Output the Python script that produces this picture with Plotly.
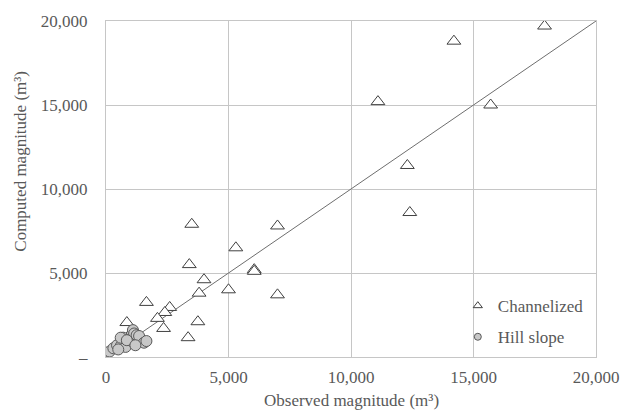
import plotly.graph_objects as go

# Channelized events (observed, computed) in m3
chan_obs = [17900, 14200, 11100, 15700, 12300, 12400, 3500, 7000, 5300, 3400,
            6050, 6050, 4000, 5000, 7000, 3800, 1650, 2600, 2400, 2100, 3750,
            2350, 3350, 850, 1000]
chan_comp = [19700, 18800, 15200, 15000, 11400, 8600, 7900, 7800, 6500, 5500,
             5200, 5100, 4600, 4000, 3700, 3800, 3250, 2950, 2650, 2300, 2100,
             1700, 1150, 2050, 1400]

# Hill slope events (observed, computed) in m3
hill_obs = [150, 300, 450, 600, 700, 800, 950, 1050, 1100, 1150, 1250, 1350,
            1550, 1650, 600, 850, 1200, 500]
hill_comp = [330, 520, 700, 650, 1150, 600, 1050, 950, 1600, 1400, 1300, 1250,
             850, 950, 1150, 1000, 700, 450]

# 1:1 reference line
line_vals = [0, 20000]

x_ticks = [0, 5000, 10000, 15000, 20000]
x_tick_text = ["0", "5,000", "10,000", "15,000", "20,000"]
y_tick_text = ["–", "5,000", "10,000", "15,000", "20,000"]

FONT = "Liberation Serif"
TXT = "#595959"
GRID = "#c6c6c6"

fig = go.Figure()
fig.add_trace(go.Scatter(x=line_vals, y=line_vals, mode="lines",
                         line=dict(color="#6e6e6e", width=1), showlegend=False,
                         hoverinfo="skip"))
fig.add_trace(go.Scatter(x=chan_obs, y=chan_comp, mode="markers", name="Channelized",
                         showlegend=False,
                         marker=dict(symbol="triangle-up", size=12, color="white",
                                     line=dict(color="#404040", width=1))))
fig.add_trace(go.Scatter(x=hill_obs, y=hill_comp, mode="markers", name="Hill slope",
                         showlegend=False,
                         marker=dict(symbol="circle", size=11, color="#c8c8c8",
                                     line=dict(color="#595959", width=1))))
# legend keys (small symbols, as in the reference)
fig.add_trace(go.Scatter(x=[None], y=[None], mode="markers", name="Channelized",
                         legendgroup="a",
                         marker=dict(symbol="triangle-up", size=8, color="white",
                                     line=dict(color="#404040", width=1))))
fig.add_trace(go.Scatter(x=[None], y=[None], mode="markers", name="Hill slope",
                         legendgroup="b",
                         marker=dict(symbol="circle", size=7, color="#c8c8c8",
                                     line=dict(color="#595959", width=1))))

fig.update_layout(
    width=631, height=410,
    margin=dict(l=106, r=35, t=18, b=53),
    paper_bgcolor="white", plot_bgcolor="white",
    font=dict(family=FONT, size=17, color=TXT),
    legend=dict(x=0.718, y=0.205, xanchor="left", yanchor="top",
                bgcolor="rgba(255,255,255,0)", tracegroupgap=6,
                font=dict(size=17, color=TXT)),
    annotations=[
        dict(text="Computed magnitude (m³)", textangle=-90, xref="paper", yref="paper",
             x=-0.175, y=0.582, xanchor="center", yanchor="middle", showarrow=False,
             font=dict(size=17, color=TXT)),
        dict(text="Observed magnitude (m³)", xref="paper", yref="paper",
             x=0.5, y=-0.095, xanchor="center", yanchor="top", showarrow=False,
             font=dict(size=17, color=TXT)),
    ],
)
fig.update_xaxes(range=[0, 20000], tickvals=x_ticks, ticktext=x_tick_text,
                 showgrid=True, gridcolor=GRID, gridwidth=1,
                 showline=True, linecolor=GRID, mirror=True, zeroline=False,
                 ticks="", ticklabelstandoff=5)
fig.update_yaxes(range=[0, 20000], tickvals=x_ticks, ticktext=y_tick_text,
                 showgrid=True, gridcolor=GRID, gridwidth=1,
                 showline=True, linecolor=GRID, mirror=True, zeroline=False,
                 ticks="", ticklabelstandoff=14)

fig.write_html("out.html",
               config={"displayModeBar": False},
               post_script="document.body.style.margin='0';"
                           "document.body.style.overflow='hidden';")
